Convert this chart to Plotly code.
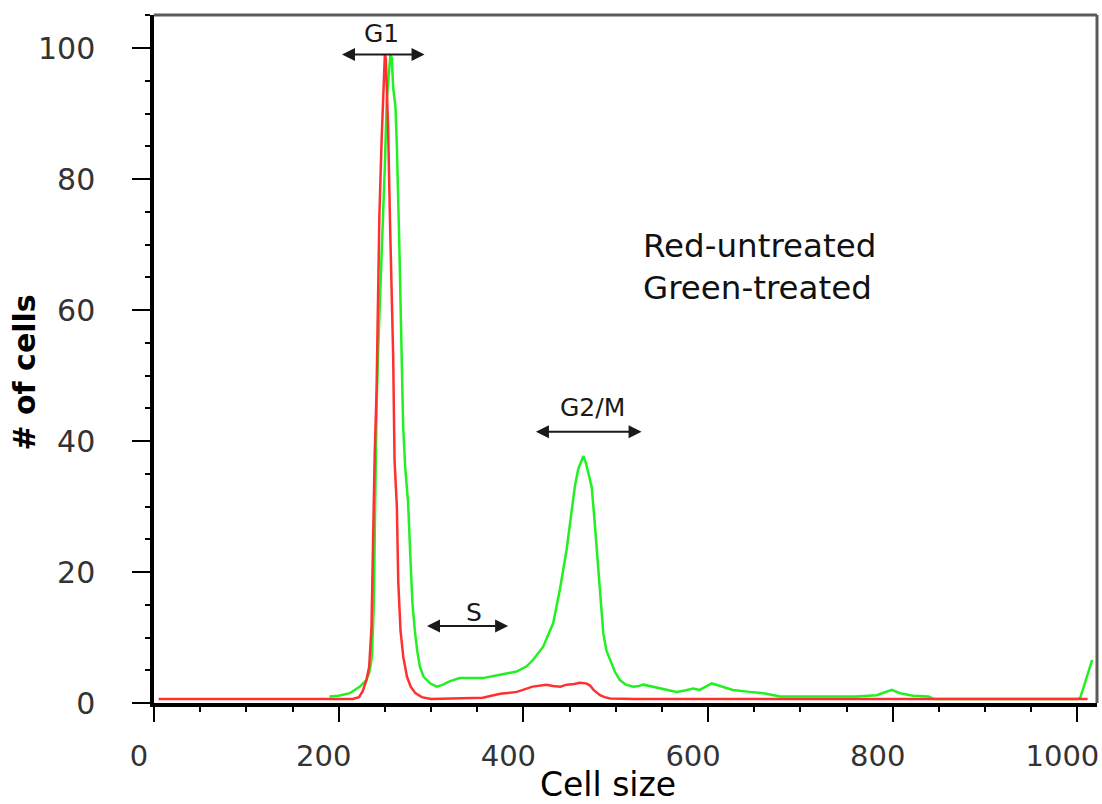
import plotly.graph_objects as go

# Cell-size histograms (cell size channel vs. number of cells)
size_untreated = [5, 100, 200, 215, 222, 226, 230, 233, 235.5, 237.5, 239, 241, 242.5, 244,
                  246.5, 249, 250, 251, 253.5, 255.5, 258, 259, 260.5, 263, 264.5, 267, 270,
                  274, 278, 283, 290, 300, 356, 375, 393, 410, 425, 432, 440, 447, 455, 461,
                  468, 472, 476, 480, 483, 488, 494, 520, 700, 900, 1011]
count_untreated = [0.6, 0.6, 0.6, 0.6, 0.9, 1.8, 3.5, 5.5, 11.5, 27, 38, 47.5, 64, 74,
                   86, 96, 99, 98.5, 88, 74, 58, 53, 37, 30, 18.5, 11, 7,
                   4, 2.5, 1.5, 0.9, 0.6, 0.8, 1.4, 1.7, 2.5, 2.8, 2.6, 2.5, 2.8, 2.9, 3.1,
                   3.0, 2.7, 2.0, 1.5, 1.2, 0.9, 0.7, 0.6, 0.6, 0.6, 0.6]

size_treated = [190, 200, 212, 223, 230, 233, 236, 238, 239.5, 241, 243, 246, 248, 250, 252,
                254, 256, 257.5, 259, 261.5, 263, 265.5, 268, 269.8, 272, 275.2, 278, 280,
                282.5, 285, 288, 292, 299, 306, 313, 320, 331, 356, 374.5, 392.6, 403.5,
                410.6, 421.5, 432.3, 439.5, 446.8, 452, 455.8, 459.4, 465, 468, 470.2, 474,
                477, 479.5, 483, 486.5, 490, 494, 499, 504.5, 511, 519, 525, 530, 540, 555,
                566, 575, 584, 591, 598, 604, 613, 627, 645, 660, 678, 720, 760, 782.6, 792,
                799, 808, 822, 838.6, 845, 1000, 1003, 1008, 1012, 1016]
count_treated = [1.0, 1.1, 1.5, 2.5, 3.5, 4.6, 7, 15, 30, 45, 55, 66, 74, 82, 92,
                 96, 99, 98.5, 94, 91, 85, 71, 53.5, 42.3, 36, 30.6, 21, 15,
                 11, 8, 5.5, 4, 3, 2.5, 2.8, 3.3, 3.8, 3.8, 4.3, 4.8, 5.6,
                 6.6, 8.6, 12.2, 17.3, 23.4, 29, 33.1, 35.7, 37.7, 36.5, 35.2, 33,
                 28, 23.4, 15.8, 10.7, 8, 6.6, 4.8, 3.5, 2.8, 2.5, 2.6, 2.8, 2.5, 2.0,
                 1.7, 1.9, 2.2, 2.0, 2.6, 3.0, 2.6, 2.0, 1.7, 1.5, 1.0, 1.0, 1.0, 1.2, 1.6,
                 2.0, 1.5, 1.1, 1.0, 0.6, 0.6, 0.8, 3, 5, 6.6]

x_ticks = [0, 200, 400, 600, 800, 1000]
y_ticks = [0, 20, 40, 60, 80, 100]

# Cell-cycle phase gates: label, gate start, gate end, height of the gate bar, label height
phase_names = ["G1", "S", "G2/M"]
phase_start = [202, 294, 412]
phase_end = [293, 383.5, 528]
phase_level = [99, 11.75, 41.4]
phase_label_x = [246, 346.6, 475]
phase_label_level = [102.2, 13.8, 45.1]

legend_lines = ["Red-untreated", "Green-treated"]

FONT = "DejaVu Sans"

fig = go.Figure()
fig.add_trace(go.Scatter(x=size_treated, y=count_treated, mode="lines",
                         line=dict(color="#22f022", width=2.5), name="treated"))
fig.add_trace(go.Scatter(x=size_untreated, y=count_untreated, mode="lines",
                         line=dict(color="#ff3030", width=2.5), name="untreated"))

# Phase gates: double-headed arrows with labels
for name, x0, x1, lvl, lx, ly in zip(phase_names, phase_start, phase_end, phase_level,
                                     phase_label_x, phase_label_level):
    fig.add_annotation(x=x1, y=lvl, ax=x0, ay=lvl, xref="x", yref="y", axref="x", ayref="y",
                       text="", showarrow=True, arrowhead=2, arrowside="end+start",
                       arrowsize=1.3, arrowwidth=2, arrowcolor="#1a1a1a")
    fig.add_annotation(x=lx, y=ly, xref="x", yref="y", text=name, showarrow=False,
                       xanchor="center", yanchor="middle",
                       font=dict(family=FONT, size=25, color="#1a1a1a"))

fig.add_annotation(x=527, y=66.5, xref="x", yref="y", text="<br>".join(legend_lines),
                   showarrow=False, xanchor="left", yanchor="middle", align="left",
                   font=dict(family=FONT, size=32.5, color="#111111"))

# Axis titles
fig.add_annotation(x=-0.137, y=0.48, xref="paper", yref="paper", text="<b># of cells</b>",
                   textangle=-90, showarrow=False, xanchor="center", yanchor="middle",
                   font=dict(family=FONT, size=30, color="#000000"))
fig.add_annotation(x=0.4814, y=-0.119, xref="paper", yref="paper", text="Cell size",
                   showarrow=False, xanchor="center", yanchor="middle",
                   font=dict(family=FONT, size=33, color="#000000"))

# Top and right frame lines
fig.add_shape(type="line", xref="paper", yref="paper", x0=0, x1=1, y0=1, y1=1,
              line=dict(color="#5a5a5a", width=3))
fig.add_shape(type="line", xref="paper", yref="paper", x0=1, x1=1, y0=0, y1=1,
              line=dict(color="#5a5a5a", width=3))

fig.update_layout(
    width=1102, height=804,
    margin=dict(l=154, r=5, t=15, b=101),
    paper_bgcolor="white", plot_bgcolor="white",
    showlegend=False,
    xaxis=dict(range=[0, 1021.2], tickvals=x_ticks, ticktext=[str(v) for v in x_ticks],
               automargin=False,
               showgrid=False, zeroline=False, showline=True, linecolor="black",
               linewidth=3.5, ticks="outside", ticklen=15, tickwidth=2, tickcolor="black",
               ticklabelshift=-15, ticklabelstandoff=9, ticklabeloverflow="allow",
               tickfont=dict(family=FONT, size=29, color="#333333"),
               minor=dict(dtick=50, ticks="outside", ticklen=5, tickwidth=2,
                          tickcolor="black", showgrid=False)),
    yaxis=dict(range=[0, 105.04], tickvals=y_ticks, ticktext=[str(v) for v in y_ticks],
               automargin=False,
               showgrid=False, zeroline=False, showline=True, linecolor="black",
               linewidth=3.5, ticks="outside", ticklen=18, tickwidth=2, tickcolor="black",
               ticklabelstandoff=31, ticklabeloverflow="allow",
               tickfont=dict(family=FONT, size=30, color="#333333"),
               minor=dict(dtick=5, ticks="outside", ticklen=5, tickwidth=2,
                          tickcolor="black", showgrid=False)),
)

fig.write_html("out.html")
